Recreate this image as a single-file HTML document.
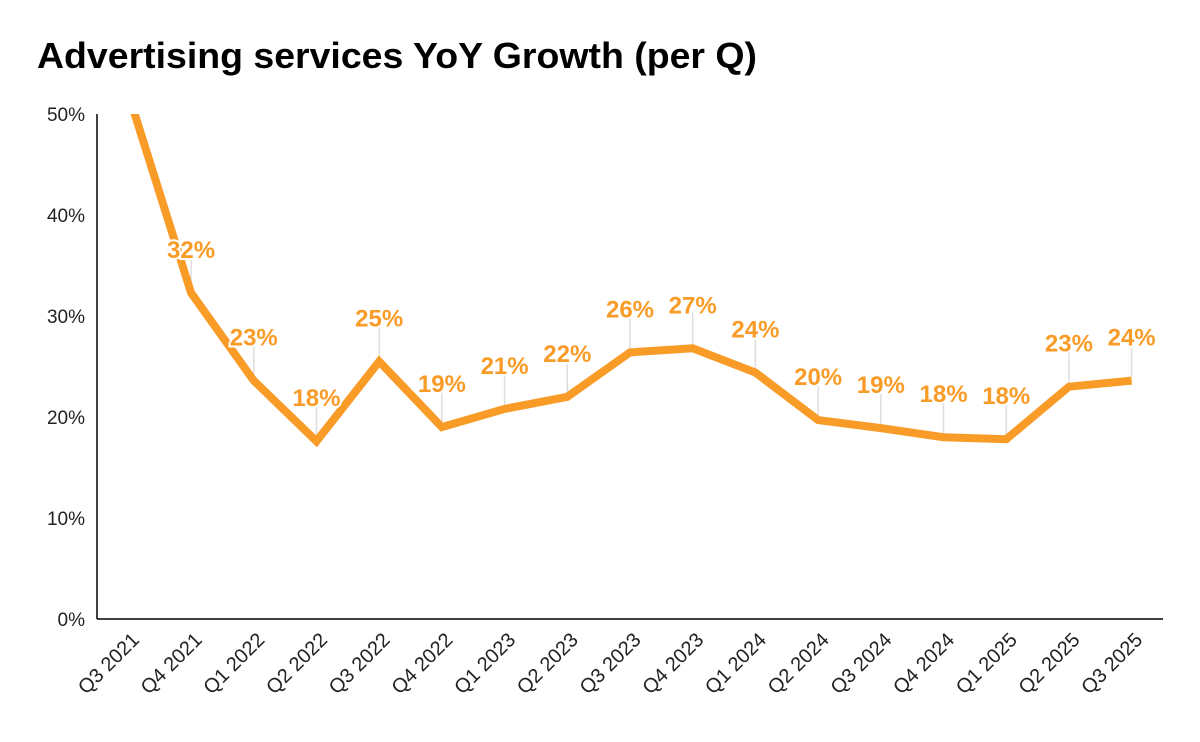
<!DOCTYPE html>
<html><head><meta charset="utf-8"><style>
body{margin:0;background:#fff;}
svg{display:block;font-family:"Liberation Sans",Arial,sans-serif;}
</style></head><body>
<svg id="chart" width="1200" height="742">
<text x="37" y="68" font-size="36" font-weight="bold" fill="#000" textLength="720" lengthAdjust="spacingAndGlyphs">Advertising services YoY Growth (per Q)</text>
<g id="grid"></g>
<g id="axes"></g>
<g id="series"></g>
<g id="labels"></g>
</svg>
<script>
const categories=["Q3 2021","Q4 2021","Q1 2022","Q2 2022","Q3 2022","Q4 2022","Q1 2023","Q2 2023","Q3 2023","Q4 2023","Q1 2024","Q2 2024","Q3 2024","Q4 2024","Q1 2025","Q2 2025","Q3 2025"];
const values=[52,32.3,23.6,17.6,25.5,19.0,20.8,22.0,26.4,26.8,24.4,19.7,18.9,18.0,17.8,23.0,23.6];
const labelsTxt=["52%","32%","23%","18%","25%","19%","21%","22%","26%","27%","24%","20%","19%","18%","18%","23%","24%"];
const yTicks=[0,10,20,30,40,50];
const ns="http://www.w3.org/2000/svg";
const L=97,R=1163,T=114,B=619,yMax=50;
const band=(R-L)/categories.length;
const x=i=>L+band*(i+0.5);
const y=v=>B-(v/yMax)*(B-T);
function mk(t,a,p){const e=document.createElementNS(ns,t);for(const k in a)e.setAttribute(k,a[k]);p.appendChild(e);return e;}
const axes=document.getElementById('axes');
const defs=mk('defs',{},document.getElementById('chart'));
const cp=mk('clipPath',{id:'clip'},defs);mk('rect',{x:L,y:T,width:R-L,height:B-T},cp);
let ya=mk('line',{x1:L,y1:T,x2:L,y2:B,stroke:'#000','stroke-width':1.5},axes);


let xa=mk('line',{x1:L,y1:B,x2:R,y2:B,stroke:'#000','stroke-width':1.5},axes);


yTicks.forEach(v=>{const t=mk('text',{x:L-12,y:y(v)+7,'font-size':19,'text-anchor':'end',fill:'#222'},axes);t.textContent=v+'%';

});
categories.forEach((c,i)=>{const t=mk('text',{x:0,y:0,'font-size':20,'text-anchor':'end',fill:'#222',transform:`translate(${x(i)+12},${B+22}) rotate(-45)`},axes);t.textContent=c;

});
const lab=document.getElementById('labels');
values.forEach((v,i)=>{if(v>yMax)return;
const ln=mk('line',{x1:x(i),y1:y(v)-4,x2:x(i),y2:y(v)-36,stroke:'#ddd','stroke-width':1.5},document.getElementById('grid'));


const t=mk('text',{x:x(i),y:y(v)-35,'font-size':24,'font-weight':'bold','text-anchor':'middle',fill:'#F99B27',stroke:'#fff','stroke-width':4,'paint-order':'stroke'},lab);t.textContent=labelsTxt[i];

});
const pts=values.map((v,i)=>x(i)+','+y(v)).join(' ');
const pl=mk('polyline',{points:pts,fill:'none',stroke:'#F99B27','stroke-width':8,'stroke-linejoin':'miter','clip-path':'url(#clip)'},document.getElementById('series'));


</script>
</body></html>
